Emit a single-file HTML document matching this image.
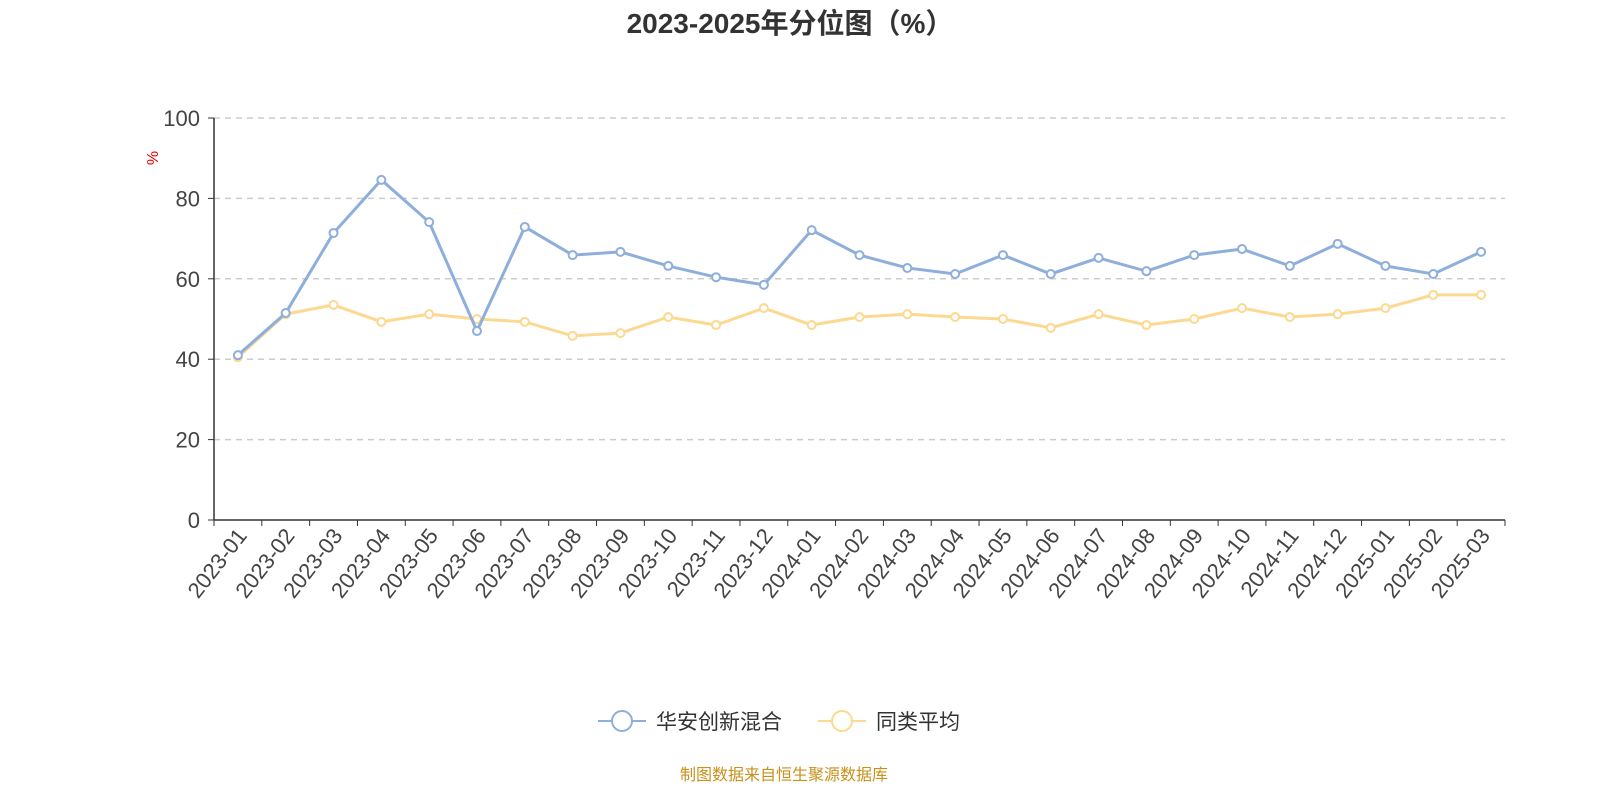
<!DOCTYPE html>
<html><head><meta charset="utf-8"><style>
body{margin:0;background:#fff;width:1600px;height:800px;overflow:hidden;font-family:"Liberation Sans","Noto Sans CJK SC",sans-serif}
</style></head><body>
<svg id="chart" width="1600" height="800" xmlns="http://www.w3.org/2000/svg">
<text x="790" y="33" text-anchor="middle" font-size="28" font-weight="bold" fill="#333" font-family="Liberation Sans, Noto Sans CJK SC, sans-serif">2023-2025年分位图（%）</text>
<text x="0" y="0" transform="translate(158,158) rotate(-90)" text-anchor="middle" font-size="16" fill="#e00">%</text>
<g id="grid"></g><g id="axes"></g><g id="series"></g>
<g>
<g>
<line x1="598" y1="721" x2="646" y2="721" stroke="#8eaedb" stroke-width="2"/>
<circle cx="622" cy="721" r="10" fill="#fff" stroke="#8eaedb" stroke-width="2"/>
<text x="656" y="729" font-size="21" fill="#333">华安创新混合</text></g>
<g>
<line x1="818" y1="721" x2="866" y2="721" stroke="#fdd890" stroke-width="2"/>
<circle cx="842" cy="721" r="10" fill="#fff" stroke="#fdd890" stroke-width="2"/>
<text x="876" y="729" font-size="21" fill="#333">同类平均</text></g>
</g>
<text x="784" y="780" text-anchor="middle" font-size="16" fill="#c9901a">制图数据来自恒生聚源数据库</text>
</svg>
<script>
const categories=["2023-01","2023-02","2023-03","2023-04","2023-05","2023-06","2023-07","2023-08","2023-09","2023-10","2023-11","2023-12","2024-01","2024-02","2024-03","2024-04","2024-05","2024-06","2024-07","2024-08","2024-09","2024-10","2024-11","2024-12","2025-01","2025-02","2025-03"];
const fundValues=[41,51.5,71.4,84.6,74.1,47,72.9,65.9,66.7,63.2,60.4,58.5,72.1,65.9,62.7,61.2,65.9,61.2,65.2,61.9,65.9,67.4,63.2,68.7,63.2,61.2,66.7];
const avgValues=[40.5,51.2,53.5,49.3,51.2,50,49.3,45.8,46.5,50.5,48.5,52.7,48.5,50.5,51.2,50.5,50,47.8,51.2,48.5,50,52.7,50.5,51.2,52.7,56,56];
const yTicks=[0,20,40,60,80,100];
const NS="http://www.w3.org/2000/svg";
const x0=214,x1=1505,yb=520,yt=118;
const step=(x1-x0)/categories.length;
const xs=i=>x0+step*(i+0.5);
const ys=v=>yb-(v/100)*(yb-yt);
function mk(tag,attrs,parent){const e=document.createElementNS(NS,tag);for(const k in attrs)e.setAttribute(k,attrs[k]);parent.appendChild(e);return e;}
const grid=document.getElementById('grid'),axes=document.getElementById('axes'),ser=document.getElementById('series');
yTicks.forEach(t=>{
 if(t>0){const g=mk('line',{x1:x0,x2:x1,y1:ys(t),y2:ys(t),stroke:'#ccc','stroke-dasharray':'6,5','stroke-width':1.5},grid);
 
 }
 const tk=mk('line',{x1:x0-6,x2:x0,y1:ys(t),y2:ys(t),stroke:'#333'},axes);
 
 
 const tx=mk('text',{x:x0-14,y:ys(t)+8,'text-anchor':'end','font-size':22,fill:'#444'},axes);
 tx.textContent=t;
 
 
});
const ya=mk('line',{x1:x0,x2:x0,y1:yt,y2:yb,stroke:'#333','stroke-width':1.5},axes);


const xa=mk('line',{x1:x0,x2:x1,y1:yb,y2:yb,stroke:'#333','stroke-width':1.5},axes);


for(let i=0;i<=categories.length;i++){
 const tk=mk('line',{x1:x0+step*i,x2:x0+step*i,y1:yb,y2:yb+6,stroke:'#333'},axes);
 
 
}
categories.forEach((c,i)=>{
 const tx=mk('text',{x:0,y:0,'text-anchor':'end','font-size':22,fill:'#444',transform:`translate(${xs(i)+10},${yb+16}) rotate(-52)`},axes);
 tx.textContent=c;
 
 
});
function drawSeries(vals,color,name){
 const p=mk('polyline',{points:vals.map((v,i)=>xs(i)+','+ys(v)).join(' '),fill:'none',stroke:color,'stroke-width':3},ser);
 
 
 vals.forEach((v,i)=>{
  const c=mk('circle',{cx:xs(i),cy:ys(v),r:4,fill:'#fff',stroke:color,'stroke-width':2},ser);
  
  
 });
}
drawSeries(avgValues,'#fdd890','average');
drawSeries(fundValues,'#8eaedb','fund');
</script>
</body></html>
